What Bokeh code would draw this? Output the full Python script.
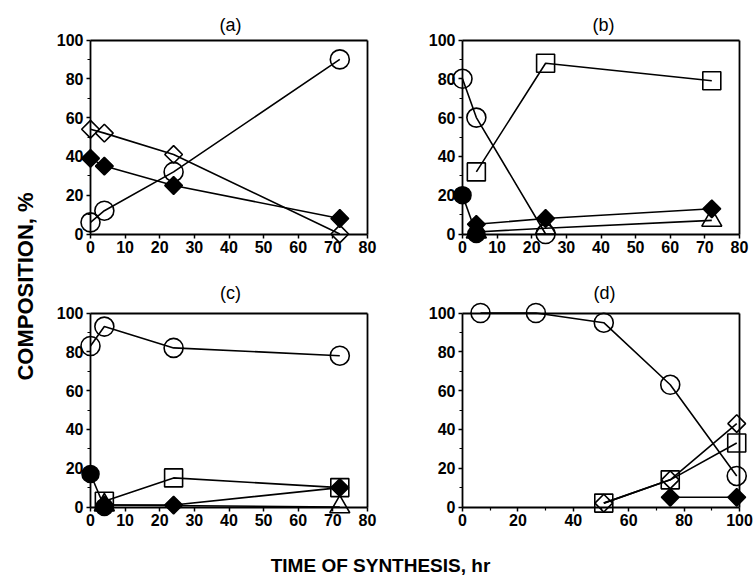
import math
from bokeh.plotting import figure
from bokeh.models import Range1d, LinearAxis, FixedTicker
from bokeh.layouts import row, column
from bokeh.embed import file_html
from bokeh.resources import INLINE
from bokeh.core.properties import value

FONT = "Liberation Sans"

# ---------------- data ----------------
# panel (a)
a_time = [0, 4, 24, 72]
a_open_circle = [6, 12, 32, 90]
a_open_diamond = [54, 52, 41, 0]
a_filled_diamond = [39, 35, 25, 8]

# panel (b)
b_circle_t = [0, 4, 24]
b_open_circle = [80, 60, 0]
b_square_t = [4, 24, 72]
b_open_square = [32, 88, 79]
b_fcircle_t = [0, 4]
b_filled_circle = [20, 0]
b_fdiam_t = [4, 24, 72]
b_filled_diamond = [5, 8, 13]
b_tri_t = [4, 24, 72]
b_open_triangle = [1, 3, 7]

# panel (c)
c_circle_t = [0, 4, 24, 72]
c_open_circle = [83, 93, 82, 78]
c_fcircle_t = [0, 4]
c_filled_circle = [17, 0]
c_square_t = [4, 24, 72]
c_open_square = [3, 15, 10]
c_fdiam_t = [4, 24, 72]
c_filled_diamond = [1, 1, 10]
c_tri_t = [4, 72]
c_open_triangle = [1, 0]

# panel (d)
d_circle_t = [6.5, 26.5, 51, 75, 99]
d_open_circle = [100, 100, 95, 63, 16]
d_square_t = [51, 75, 99]
d_open_square = [2, 14, 33]
d_odiam_t = [51, 75, 99]
d_open_diamond = [2, 14, 43]
d_fdiam_t = [75, 99]
d_filled_diamond = [5, 5]

y_ticks = [0, 20, 40, 60, 80, 100]
y_minor = [10, 30, 50, 70, 90]
x_ticks_80 = [0, 10, 20, 30, 40, 50, 60, 70, 80]
x_ticks_100 = [0, 20, 40, 60, 80, 100]
x_minor_100 = [10, 30, 50, 70, 90]

TICK_FONT_SIZE = "16px"
LW = 1.6


def style_axis(ax, labels=True):
    ax.axis_line_color = "black"
    ax.axis_line_width = 1.8
    ax.major_tick_line_color = "black" if labels else None
    ax.minor_tick_line_color = "black" if labels else None
    ax.major_tick_line_width = 1.5
    ax.minor_tick_line_width = 1.2
    ax.major_tick_out = 4
    ax.major_tick_in = 0
    ax.minor_tick_out = 3
    ax.minor_tick_in = 0
    ax.major_label_standoff = 3
    ax.major_label_text_font = FONT
    ax.major_label_text_font_style = "bold"
    ax.major_label_text_font_size = TICK_FONT_SIZE
    ax.major_label_text_color = "black" if labels else None


def panel(title, box, xpx, ypx, xmax, xticks, xminor, title_pos):
    left, top, w, h = box
    px0, px1 = xpx
    py100, py0 = ypx
    sx = (px1 - px0) / xmax
    sy = (py0 - py100) / 100.0
    xs = -(px0 - left) / sx
    xe = xmax + (left + w - px1) / sx
    ye = 100 + (py100 - top) / sy
    ys = -(top + h - py0) / sy
    p = figure(width=w, height=h, x_range=Range1d(xs, xe), y_range=Range1d(ys, ye),
               x_axis_location=None, y_axis_location=None, title=None,
               toolbar_location=None, output_backend="svg", min_border=0,
               outline_line_color=None, background_fill_color="white",
               border_fill_color="white")
    p.grid.visible = False

    left_ax = LinearAxis(fixed_location=0, bounds=(0, 100),
                         ticker=FixedTicker(ticks=y_ticks, minor_ticks=y_minor))
    style_axis(left_ax)
    p.add_layout(left_ax, "left")
    bot_ax = LinearAxis(fixed_location=0, bounds=(0, xmax),
                        ticker=FixedTicker(ticks=xticks, minor_ticks=xminor))
    style_axis(bot_ax)
    p.add_layout(bot_ax, "below")
    right_ax = LinearAxis(fixed_location=xmax, bounds=(0, 100),
                          ticker=FixedTicker(ticks=y_ticks))
    style_axis(right_ax, labels=False)
    p.add_layout(right_ax, "right")
    top_ax = LinearAxis(fixed_location=100, bounds=(0, xmax),
                        ticker=FixedTicker(ticks=xticks))
    style_axis(top_ax, labels=False)
    p.add_layout(top_ax, "above")

    tx = (title_pos[0] - px0) / sx
    ty = 100 + (py100 - title_pos[1]) / sy
    p.text(x=[tx], y=[ty], text=[title], text_align="center", text_baseline="middle",
           text_font=value(FONT), text_font_size="18px", text_color="black")
    return p


def series(p, t, v, marker, filled, size, angle=0.0):
    p.line(t, v, line_color="black", line_width=LW)
    p.scatter(t, v, marker=marker, size=size, angle=angle,
              line_color="black", line_width=LW,
              fill_color="black" if filled else None)


DIAM = dict(marker="square", angle=math.pi / 4, size=12.5)

# positions (page px): figure boxes and axis locations
YL_W = 44
LX = (90, 367)
RX = (462, 739)
TY = (39.5, 233.5)
BY = (312.5, 506.5)
LW_FIG = 402 - YL_W

pa = panel("(a)", (YL_W, 0, LW_FIG, 270), LX, TY, 80, x_ticks_80, [], (230, 24))
series(pa, a_time, a_open_diamond, filled=False, **DIAM)
series(pa, a_time, a_filled_diamond, filled=True, **DIAM)
series(pa, a_time, a_open_circle, "circle", False, 19)

pb = panel("(b)", (402, 0, 352, 270), RX, TY, 80, x_ticks_80, [], (603, 24))
series(pb, b_tri_t, b_open_triangle, "triangle", False, 20)
series(pb, b_fdiam_t, b_filled_diamond, filled=True, **DIAM)
series(pb, b_fcircle_t, b_filled_circle, "circle", True, 17)
series(pb, b_circle_t, b_open_circle, "circle", False, 19)
series(pb, b_square_t, b_open_square, "square", False, 18)

pc = panel("(c)", (YL_W, 270, LW_FIG, 260), LX, BY, 80, x_ticks_80, [], (230, 292))
series(pc, c_tri_t, c_open_triangle, "triangle", False, 20)
series(pc, c_fdiam_t, c_filled_diamond, filled=True, **DIAM)
series(pc, c_fcircle_t, c_filled_circle, "circle", True, 17)
series(pc, c_square_t, c_open_square, "square", False, 18)
series(pc, c_circle_t, c_open_circle, "circle", False, 19)

pd = panel("(d)", (402, 270, 352, 260), RX, BY, 100, x_ticks_100, x_minor_100, (604, 292))
series(pd, d_fdiam_t, d_filled_diamond, filled=True, **DIAM)
series(pd, d_odiam_t, d_open_diamond, filled=False, **DIAM)
series(pd, d_square_t, d_open_square, "square", False, 18)
series(pd, d_circle_t, d_open_circle, "circle", False, 19)

# shared axis titles
YL_H = 530
ylab = figure(width=YL_W, height=YL_H, x_range=Range1d(0, YL_W), y_range=Range1d(0, YL_H),
              x_axis_location=None, y_axis_location=None, title=None,
              toolbar_location=None, output_backend="svg", min_border=0,
              outline_line_color=None)
ylab.grid.visible = False
ylab.text(x=[25], y=[YL_H - 286], text=["COMPOSITION, %"], angle=math.pi / 2,
          text_align="center", text_baseline="middle", text_font=value(FONT),
          text_font_style="bold", text_font_size="22px", text_color="black")

XL_W, XL_H = 754, 48
xlab = figure(width=XL_W, height=XL_H, x_range=Range1d(0, XL_W), y_range=Range1d(0, XL_H),
              x_axis_location=None, y_axis_location=None, title=None,
              toolbar_location=None, output_backend="svg", min_border=0,
              outline_line_color=None)
xlab.grid.visible = False
xlab.text(x=[380], y=[578 - 565], text=["TIME OF SYNTHESIS, hr"],
          text_align="center", text_baseline="middle", text_font=value(FONT),
          text_font_style="bold", text_font_size="19px", text_color="black")

layout = column(row(ylab, column(row(pa, pb), row(pc, pd))), xlab)

open("out.html", "w").write(file_html(layout, INLINE))
